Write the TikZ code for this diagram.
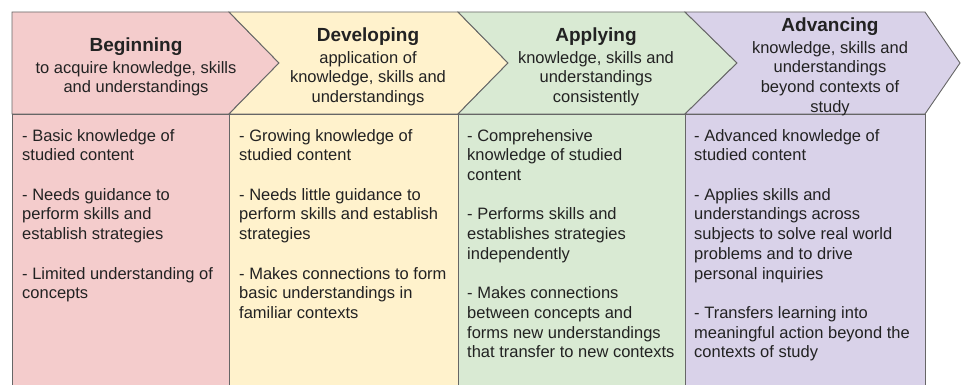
\documentclass[tikz,border=0pt]{standalone}
\usepackage{fontspec}
\setmainfont{Liberation Sans}
\usetikzlibrary{positioning}

\definecolor{begfill}{HTML}{F4CCCC}
\definecolor{devfill}{HTML}{FFF2CC}
\definecolor{appfill}{HTML}{D9EAD3}
\definecolor{advfill}{HTML}{D9D2E9}
\definecolor{edgegray}{HTML}{666666}
\definecolor{inkgray}{HTML}{222222}

\begin{document}
\begin{tikzpicture}[x=1pt, y=-1pt, stage/.style={draw=edgegray, line width=0.9pt}, title/.style={anchor=base, inner sep=0pt, text=inkgray, font=\fontsize{19}{21}\selectfont\bfseries}, sub/.style={align=center, inner sep=0pt, text=inkgray, font=\fontsize{16.5}{19.7}\selectfont}, body/.style={align=left, anchor=north west, inner sep=0pt, text=inkgray, font=\fontsize{16.5}{19.7}\selectfont}]
  \useasboundingbox (0,0) rectangle (961,385);
  \clip (0,0) rectangle (961,385);
  % columns
  \draw[stage, fill=begfill] (12,390) -- (12,114) -- (229,114) -- (229,390);
  \draw[stage, fill=devfill] (229,390) -- (229,114) -- (458,114) -- (458,390);
  \draw[stage, fill=appfill] (458,390) -- (458,114) -- (685,114) -- (685,390);
  \draw[stage, fill=advfill] (685,390) -- (685,114) -- (925,114) -- (925,390);
  % chevrons
  \draw[stage, fill=begfill] (12,12) -- (229,12) -- (279,63) -- (229,114) -- (12,114) -- cycle;
  \draw[stage, fill=devfill] (229,12) -- (458,12) -- (508,63) -- (458,114) -- (229,114) -- (279,63) -- cycle;
  \draw[stage, fill=appfill] (458,12) -- (685,12) -- (737,63) -- (685,114) -- (458,114) -- (508,63) -- cycle;
  \draw[stage, fill=advfill] (685,12) -- (925,12) -- (960,63) -- (925,114) -- (685,114) -- (737,63) -- cycle;

  \draw (136,52)node[title](beg-title){Beginning};
  \node[sub, below=9pt of beg-title.base](beg-sub){to acquire knowledge, skills\\and understandings};
  \draw (368,42)node[title](dev-title){Developing};
  \node[sub, below=9pt of dev-title.base](dev-sub){application of\\knowledge, skills and\\understandings};
  \draw (596,42)node[title](app-title){Applying};
  \node[sub, below=9pt of app-title.base](app-sub){knowledge, skills and\\understandings\\consistently};
  \draw (830,32)node[title](adv-title){Advancing};
  \node[sub, below=9pt of adv-title.base](adv-sub){knowledge, skills and\\understandings\\beyond contexts of\\study};

  \draw (22,129)node[body](beg-body){- Basic knowledge of\\studied content\\[19.7pt]- Needs guidance to\\perform skills and\\establish strategies\\[19.7pt]- Limited understanding of\\concepts};
  \draw (239,129)node[body](dev-body){- Growing knowledge of\\studied content\\[19.7pt]- Needs little guidance to\\perform skills and establish\\strategies\\[19.7pt]- Makes connections to form\\basic understandings in\\familiar contexts};
  \draw (467,129)node[body](app-body){- Comprehensive\\knowledge of studied\\content\\[19.7pt]- Performs skills and\\establishes strategies\\independently\\[19.7pt]- Makes connections\\between concepts and\\forms new understandings\\that transfer to new contexts};
  \draw (694,129)node[body](adv-body){- Advanced knowledge of\\studied content\\[19.7pt]- Applies skills and\\understandings across\\subjects to solve real world\\problems and to drive\\personal inquiries\\[19.7pt]- Transfers learning into\\meaningful action beyond the\\contexts of study};
\end{tikzpicture}
\end{document}
